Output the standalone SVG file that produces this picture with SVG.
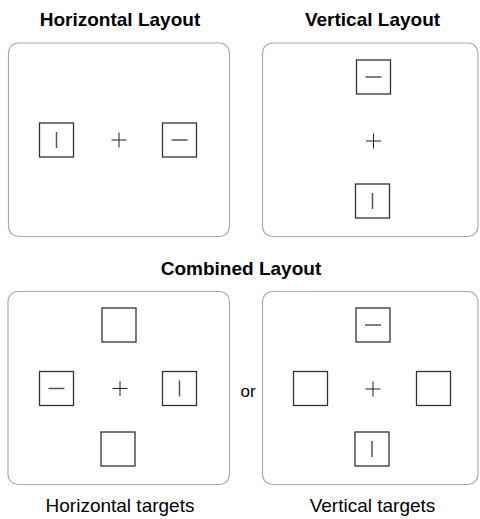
<svg xmlns="http://www.w3.org/2000/svg" width="480" height="519" viewBox="0 0 480 519">
<style>
.panel{fill:#fff;stroke:#aaa;stroke-width:1.2}
.sq{fill:#fff;stroke:#333;stroke-width:1.3}
.mk{stroke:#555;stroke-width:1.5;fill:none}
.fx{stroke:#222;stroke-width:1;fill:none}
.title{font-family:"Liberation Sans",Arial,sans-serif;font-weight:bold;font-size:19px;fill:#000;text-anchor:middle}
.lab{font-family:"Liberation Sans",Arial,sans-serif;font-size:19px;fill:#000;text-anchor:middle}
</style>
<defs>
<rect id="sq" class="sq" x="-17" y="-17" width="34" height="34"/>
<g id="h"><use href="#sq"/><line class="mk" x1="-8" y1="0" x2="8" y2="0"/></g>
<g id="v"><use href="#sq"/><line class="mk" x1="0" y1="-8" x2="0" y2="8"/></g>
<path id="fix" class="fx" d="M-7.5 0H7.5M0 -7.5V7.5"/>
</defs>
<rect width="480" height="519" fill="#fff"/>
<text class="title" x="120" y="26">Horizontal Layout</text>
<text class="title" x="372.5" y="26">Vertical Layout</text>
<text class="title" x="241" y="275">Combined Layout</text>

<g id="panel-horizontal">
<rect class="panel" x="8.5" y="43" width="221" height="193.5" rx="10"/>
<use id="h-left" href="#v" x="56.5" y="140"/>
<use id="h-fix" href="#fix" x="119" y="140"/>
<use id="h-right" href="#h" x="179.5" y="140"/>
</g>

<g id="panel-vertical">
<rect class="panel" x="262.5" y="43" width="215.5" height="193.5" rx="10"/>
<use id="v-top" href="#h" x="373.5" y="77"/>
<use id="v-fix" href="#fix" x="373.5" y="141"/>
<use id="v-bottom" href="#v" x="372.5" y="201"/>
</g>

<g id="panel-combined-h">
<rect class="panel" x="8" y="291.5" width="221.5" height="193" rx="10"/>
<use href="#sq" x="119" y="325"/>
<use href="#h" x="56.5" y="388.5"/>
<use href="#fix" x="120" y="388.5"/>
<use href="#v" x="179.5" y="388.5"/>
<use href="#sq" x="118" y="449"/>
</g>

<text class="lab" x="248" y="396.5" style="font-size:17px">or</text>

<g id="panel-combined-v">
<rect class="panel" x="262.5" y="291.5" width="215.5" height="193" rx="10"/>
<use href="#h" x="373" y="325"/>
<use href="#sq" x="310.5" y="388.5"/>
<use href="#fix" x="373" y="389"/>
<use href="#sq" x="433.5" y="388.5"/>
<use href="#v" x="372" y="449"/>
</g>

<text class="lab" x="120" y="511.5">Horizontal targets</text>
<text class="lab" x="372.5" y="511.5">Vertical targets</text>
</svg>
